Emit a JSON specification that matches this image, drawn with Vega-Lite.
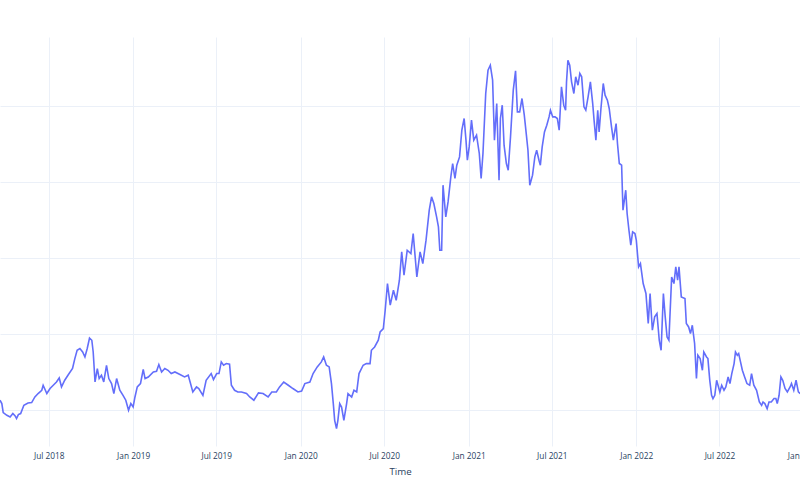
{
  "$schema": "https://vega.github.io/schema/vega-lite/v6.json",
  "width": 800,
  "height": 409,
  "autosize": {"type": "none"},
  "padding": {"left": 0, "top": 37, "right": 0, "bottom": 54},
  "background": "white",
  "config": {"view": {"stroke": null}},
  "data": {
    "values": [
      {"date": "2018-03-17", "value": 11.32}, {"date": "2018-03-21", "value": 10.88}, {"date": "2018-03-24", "value": 9.70},
      {"date": "2018-04-01", "value": 9.34}, {"date": "2018-04-08", "value": 9.12}, {"date": "2018-04-14", "value": 9.57},
      {"date": "2018-04-19", "value": 9.25}, {"date": "2018-04-22", "value": 8.91}, {"date": "2018-04-26", "value": 9.43},
      {"date": "2018-05-01", "value": 9.57}, {"date": "2018-05-08", "value": 10.66}, {"date": "2018-05-17", "value": 10.96},
      {"date": "2018-05-25", "value": 11.01}, {"date": "2018-06-01", "value": 11.75}, {"date": "2018-06-08", "value": 12.20},
      {"date": "2018-06-16", "value": 12.63}, {"date": "2018-06-19", "value": 13.29}, {"date": "2018-06-27", "value": 12.20},
      {"date": "2018-07-04", "value": 12.86}, {"date": "2018-07-11", "value": 13.29}, {"date": "2018-07-18", "value": 13.72},
      {"date": "2018-07-24", "value": 14.25}, {"date": "2018-07-29", "value": 13.07}, {"date": "2018-08-05", "value": 13.95},
      {"date": "2018-08-12", "value": 14.61}, {"date": "2018-08-22", "value": 15.49}, {"date": "2018-08-27", "value": 16.80},
      {"date": "2018-09-01", "value": 17.89}, {"date": "2018-09-07", "value": 18.12}, {"date": "2018-09-13", "value": 17.67},
      {"date": "2018-09-18", "value": 17.01}, {"date": "2018-09-23", "value": 18.12}, {"date": "2018-09-28", "value": 19.51},
      {"date": "2018-10-03", "value": 19.21}, {"date": "2018-10-06", "value": 17.67}, {"date": "2018-10-10", "value": 13.72},
      {"date": "2018-10-15", "value": 15.49}, {"date": "2018-10-19", "value": 14.17}, {"date": "2018-10-24", "value": 14.61},
      {"date": "2018-10-29", "value": 13.72}, {"date": "2018-11-04", "value": 15.92}, {"date": "2018-11-09", "value": 14.17},
      {"date": "2018-11-15", "value": 13.51}, {"date": "2018-11-20", "value": 12.20}, {"date": "2018-11-26", "value": 14.17},
      {"date": "2018-12-03", "value": 12.63}, {"date": "2018-12-10", "value": 11.97}, {"date": "2018-12-16", "value": 11.32},
      {"date": "2018-12-22", "value": 10.00}, {"date": "2018-12-27", "value": 10.88},
      {"date": "2019-01-01", "value": 10.43}, {"date": "2019-01-05", "value": 11.75}, {"date": "2019-01-10", "value": 13.07},
      {"date": "2019-01-17", "value": 13.51}, {"date": "2019-01-23", "value": 15.39}, {"date": "2019-01-27", "value": 14.17},
      {"date": "2019-02-03", "value": 14.38}, {"date": "2019-02-14", "value": 15.04}, {"date": "2019-02-21", "value": 15.13},
      {"date": "2019-02-26", "value": 16.01}, {"date": "2019-03-04", "value": 15.04}, {"date": "2019-03-11", "value": 15.49},
      {"date": "2019-03-18", "value": 15.26}, {"date": "2019-03-25", "value": 14.83}, {"date": "2019-04-02", "value": 15.04},
      {"date": "2019-04-13", "value": 14.70}, {"date": "2019-04-23", "value": 14.38}, {"date": "2019-05-01", "value": 14.61},
      {"date": "2019-05-06", "value": 13.51}, {"date": "2019-05-11", "value": 12.41}, {"date": "2019-05-19", "value": 13.07},
      {"date": "2019-05-24", "value": 12.86}, {"date": "2019-06-02", "value": 11.97}, {"date": "2019-06-09", "value": 13.95},
      {"date": "2019-06-20", "value": 14.83}, {"date": "2019-06-25", "value": 14.04}, {"date": "2019-07-02", "value": 14.83},
      {"date": "2019-07-07", "value": 14.83}, {"date": "2019-07-12", "value": 16.36}, {"date": "2019-07-17", "value": 15.92},
      {"date": "2019-07-23", "value": 16.14}, {"date": "2019-07-30", "value": 16.05}, {"date": "2019-08-03", "value": 13.29},
      {"date": "2019-08-10", "value": 12.63}, {"date": "2019-08-17", "value": 12.41}, {"date": "2019-08-25", "value": 12.41},
      {"date": "2019-09-05", "value": 12.20}, {"date": "2019-09-12", "value": 11.75}, {"date": "2019-09-21", "value": 11.32},
      {"date": "2019-10-01", "value": 12.28}, {"date": "2019-10-11", "value": 12.20}, {"date": "2019-10-22", "value": 11.75},
      {"date": "2019-10-30", "value": 12.41}, {"date": "2019-11-09", "value": 12.41}, {"date": "2019-11-16", "value": 13.07},
      {"date": "2019-11-25", "value": 13.72}, {"date": "2019-12-05", "value": 13.29}, {"date": "2019-12-15", "value": 12.86},
      {"date": "2019-12-26", "value": 12.41},
      {"date": "2020-01-03", "value": 12.54}, {"date": "2020-01-10", "value": 13.51}, {"date": "2020-01-21", "value": 13.72},
      {"date": "2020-01-28", "value": 14.83}, {"date": "2020-02-06", "value": 15.70}, {"date": "2020-02-15", "value": 16.36},
      {"date": "2020-02-20", "value": 17.01}, {"date": "2020-02-26", "value": 15.92}, {"date": "2020-03-03", "value": 15.70},
      {"date": "2020-03-08", "value": 13.51}, {"date": "2020-03-12", "value": 10.88}, {"date": "2020-03-15", "value": 8.68},
      {"date": "2020-03-19", "value": 7.59}, {"date": "2020-03-22", "value": 8.68}, {"date": "2020-03-26", "value": 10.88},
      {"date": "2020-03-30", "value": 10.43}, {"date": "2020-04-04", "value": 8.68}, {"date": "2020-04-10", "value": 10.88},
      {"date": "2020-04-13", "value": 12.20}, {"date": "2020-04-21", "value": 11.75}, {"date": "2020-04-26", "value": 12.63},
      {"date": "2020-05-02", "value": 12.41}, {"date": "2020-05-07", "value": 14.83}, {"date": "2020-05-16", "value": 15.92},
      {"date": "2020-05-23", "value": 16.14}, {"date": "2020-05-31", "value": 16.14}, {"date": "2020-06-03", "value": 17.89},
      {"date": "2020-06-10", "value": 18.33}, {"date": "2020-06-18", "value": 19.21}, {"date": "2020-06-22", "value": 20.30},
      {"date": "2020-06-29", "value": 20.75}, {"date": "2020-07-03", "value": 23.16}, {"date": "2020-07-08", "value": 26.67},
      {"date": "2020-07-14", "value": 23.82}, {"date": "2020-07-21", "value": 25.79}, {"date": "2020-07-27", "value": 24.47},
      {"date": "2020-08-03", "value": 27.11}, {"date": "2020-08-08", "value": 30.83}, {"date": "2020-08-13", "value": 27.76},
      {"date": "2020-08-20", "value": 31.05}, {"date": "2020-08-28", "value": 30.62}, {"date": "2020-09-02", "value": 33.25},
      {"date": "2020-09-10", "value": 27.54}, {"date": "2020-09-17", "value": 30.83}, {"date": "2020-09-23", "value": 29.30},
      {"date": "2020-09-30", "value": 32.37}, {"date": "2020-10-07", "value": 36.32}, {"date": "2020-10-12", "value": 38.07},
      {"date": "2020-10-17", "value": 37.20}, {"date": "2020-10-23", "value": 35.43}, {"date": "2020-10-27", "value": 34.12},
      {"date": "2020-10-30", "value": 31.05}, {"date": "2020-11-03", "value": 31.05}, {"date": "2020-11-06", "value": 39.61},
      {"date": "2020-11-12", "value": 35.43}, {"date": "2020-11-17", "value": 37.41}, {"date": "2020-11-23", "value": 40.70},
      {"date": "2020-11-27", "value": 42.46}, {"date": "2020-12-02", "value": 40.49}, {"date": "2020-12-06", "value": 42.24},
      {"date": "2020-12-12", "value": 43.33}, {"date": "2020-12-17", "value": 46.84}, {"date": "2020-12-22", "value": 48.38},
      {"date": "2020-12-26", "value": 45.53}, {"date": "2020-12-29", "value": 42.89},
      {"date": "2021-01-02", "value": 44.64}, {"date": "2021-01-07", "value": 48.16}, {"date": "2021-01-12", "value": 45.53},
      {"date": "2021-01-18", "value": 46.18}, {"date": "2021-01-24", "value": 43.78}, {"date": "2021-01-28", "value": 40.49},
      {"date": "2021-02-01", "value": 43.78}, {"date": "2021-02-07", "value": 51.67}, {"date": "2021-02-12", "value": 54.74},
      {"date": "2021-02-17", "value": 55.39}, {"date": "2021-02-22", "value": 53.42}, {"date": "2021-02-26", "value": 45.53},
      {"date": "2021-03-03", "value": 50.36}, {"date": "2021-03-08", "value": 40.26}, {"date": "2021-03-11", "value": 48.38},
      {"date": "2021-03-15", "value": 50.13}, {"date": "2021-03-19", "value": 44.87}, {"date": "2021-03-24", "value": 42.46},
      {"date": "2021-03-28", "value": 41.58}, {"date": "2021-04-02", "value": 45.96}, {"date": "2021-04-08", "value": 52.11},
      {"date": "2021-04-13", "value": 54.64}, {"date": "2021-04-17", "value": 49.25}, {"date": "2021-04-22", "value": 49.25},
      {"date": "2021-04-27", "value": 51.01}, {"date": "2021-05-02", "value": 48.82}, {"date": "2021-05-07", "value": 45.96},
      {"date": "2021-05-10", "value": 44.21}, {"date": "2021-05-14", "value": 39.61}, {"date": "2021-05-20", "value": 40.92},
      {"date": "2021-05-25", "value": 43.33}, {"date": "2021-05-29", "value": 44.21}, {"date": "2021-06-03", "value": 42.89},
      {"date": "2021-06-06", "value": 42.24}, {"date": "2021-06-10", "value": 44.64}, {"date": "2021-06-15", "value": 46.62},
      {"date": "2021-06-20", "value": 47.50}, {"date": "2021-06-25", "value": 48.59}, {"date": "2021-06-28", "value": 49.47},
      {"date": "2021-07-03", "value": 48.59}, {"date": "2021-07-08", "value": 48.59}, {"date": "2021-07-13", "value": 48.38},
      {"date": "2021-07-17", "value": 46.84}, {"date": "2021-07-22", "value": 52.54}, {"date": "2021-07-27", "value": 50.13},
      {"date": "2021-07-31", "value": 49.47}, {"date": "2021-08-02", "value": 53.20}, {"date": "2021-08-05", "value": 56.05},
      {"date": "2021-08-09", "value": 55.39}, {"date": "2021-08-13", "value": 53.20}, {"date": "2021-08-18", "value": 51.67},
      {"date": "2021-08-22", "value": 53.86}, {"date": "2021-08-27", "value": 52.76}, {"date": "2021-08-31", "value": 54.30},
      {"date": "2021-09-04", "value": 53.86}, {"date": "2021-09-09", "value": 49.91}, {"date": "2021-09-13", "value": 49.47},
      {"date": "2021-09-18", "value": 51.22}, {"date": "2021-09-23", "value": 53.20}, {"date": "2021-09-28", "value": 50.36},
      {"date": "2021-10-01", "value": 48.16}, {"date": "2021-10-05", "value": 45.53}, {"date": "2021-10-09", "value": 49.47},
      {"date": "2021-10-12", "value": 46.62}, {"date": "2021-10-16", "value": 49.70}, {"date": "2021-10-21", "value": 52.99},
      {"date": "2021-10-25", "value": 51.45}, {"date": "2021-10-30", "value": 50.79}, {"date": "2021-11-03", "value": 49.70},
      {"date": "2021-11-08", "value": 47.28}, {"date": "2021-11-12", "value": 45.53}, {"date": "2021-11-18", "value": 47.72},
      {"date": "2021-11-21", "value": 45.09}, {"date": "2021-11-25", "value": 42.46}, {"date": "2021-11-30", "value": 42.24},
      {"date": "2021-12-03", "value": 36.32}, {"date": "2021-12-09", "value": 38.95}, {"date": "2021-12-12", "value": 35.88},
      {"date": "2021-12-16", "value": 33.68}, {"date": "2021-12-20", "value": 31.71}, {"date": "2021-12-24", "value": 33.46},
      {"date": "2021-12-29", "value": 33.25},
      {"date": "2022-01-01", "value": 32.37}, {"date": "2022-01-06", "value": 28.86}, {"date": "2022-01-10", "value": 29.30},
      {"date": "2022-01-16", "value": 26.67}, {"date": "2022-01-22", "value": 25.36}, {"date": "2022-01-27", "value": 21.41},
      {"date": "2022-01-31", "value": 25.36}, {"date": "2022-02-05", "value": 20.53}, {"date": "2022-02-10", "value": 22.28},
      {"date": "2022-02-15", "value": 22.72}, {"date": "2022-02-20", "value": 19.21}, {"date": "2022-02-24", "value": 17.89},
      {"date": "2022-03-01", "value": 25.36}, {"date": "2022-03-05", "value": 22.28}, {"date": "2022-03-09", "value": 19.64},
      {"date": "2022-03-13", "value": 19.21}, {"date": "2022-03-19", "value": 27.54}, {"date": "2022-03-24", "value": 26.67},
      {"date": "2022-03-28", "value": 28.86}, {"date": "2022-04-01", "value": 27.11}, {"date": "2022-04-04", "value": 28.86},
      {"date": "2022-04-09", "value": 24.91}, {"date": "2022-04-17", "value": 24.70}, {"date": "2022-04-20", "value": 21.41},
      {"date": "2022-04-25", "value": 20.96}, {"date": "2022-04-29", "value": 20.09}, {"date": "2022-05-03", "value": 21.18},
      {"date": "2022-05-08", "value": 18.78}, {"date": "2022-05-12", "value": 14.17}, {"date": "2022-05-15", "value": 17.24},
      {"date": "2022-05-20", "value": 16.80}, {"date": "2022-05-25", "value": 15.26}, {"date": "2022-05-28", "value": 17.67},
      {"date": "2022-06-03", "value": 17.01}, {"date": "2022-06-06", "value": 16.80}, {"date": "2022-06-10", "value": 13.95},
      {"date": "2022-06-14", "value": 11.97}, {"date": "2022-06-17", "value": 11.54}, {"date": "2022-06-21", "value": 11.97},
      {"date": "2022-06-25", "value": 13.95}, {"date": "2022-06-28", "value": 13.29}, {"date": "2022-07-02", "value": 12.41},
      {"date": "2022-07-06", "value": 13.29}, {"date": "2022-07-11", "value": 12.63}, {"date": "2022-07-15", "value": 13.07},
      {"date": "2022-07-20", "value": 14.38}, {"date": "2022-07-24", "value": 13.51}, {"date": "2022-07-28", "value": 14.83},
      {"date": "2022-08-02", "value": 16.14}, {"date": "2022-08-05", "value": 17.67}, {"date": "2022-08-09", "value": 17.24},
      {"date": "2022-08-12", "value": 17.46}, {"date": "2022-08-16", "value": 16.36}, {"date": "2022-08-20", "value": 15.26},
      {"date": "2022-08-25", "value": 14.38}, {"date": "2022-08-30", "value": 13.51}, {"date": "2022-09-05", "value": 13.29},
      {"date": "2022-09-09", "value": 14.83}, {"date": "2022-09-14", "value": 13.29}, {"date": "2022-09-20", "value": 12.63},
      {"date": "2022-09-26", "value": 11.09}, {"date": "2022-10-01", "value": 10.66}, {"date": "2022-10-04", "value": 11.09},
      {"date": "2022-10-08", "value": 10.88}, {"date": "2022-10-13", "value": 10.22}, {"date": "2022-10-17", "value": 11.09},
      {"date": "2022-10-22", "value": 11.09}, {"date": "2022-10-28", "value": 11.54}, {"date": "2022-11-01", "value": 11.54},
      {"date": "2022-11-04", "value": 10.88}, {"date": "2022-11-08", "value": 11.97}, {"date": "2022-11-12", "value": 14.38},
      {"date": "2022-11-16", "value": 13.95}, {"date": "2022-11-21", "value": 12.86}, {"date": "2022-11-26", "value": 12.41},
      {"date": "2022-12-02", "value": 13.07}, {"date": "2022-12-05", "value": 13.51}, {"date": "2022-12-10", "value": 12.63},
      {"date": "2022-12-15", "value": 13.95}, {"date": "2022-12-20", "value": 12.41}, {"date": "2022-12-24", "value": 12.20}
    ]
  },
  "mark": {"type": "line", "color": "#636efa", "strokeWidth": 1.6},
  "encoding": {
    "x": {
      "field": "date",
      "type": "temporal",
      "title": "Time",
      "scale": {
        "type": "utc",
        "domain": [
          {"year": 2018, "month": 3, "date": 17, "utc": true},
          {"year": 2023, "month": 1, "date": 10, "utc": true}
        ],
        "range": [0, 808]
      },
      "axis": {
        "values": [
          {"year": 2018, "month": 7, "date": 1, "utc": true},
          {"year": 2019, "month": 1, "date": 1, "utc": true},
          {"year": 2019, "month": 7, "date": 1, "utc": true},
          {"year": 2020, "month": 1, "date": 1, "utc": true},
          {"year": 2020, "month": 7, "date": 1, "utc": true},
          {"year": 2021, "month": 1, "date": 1, "utc": true},
          {"year": 2021, "month": 7, "date": 1, "utc": true},
          {"year": 2022, "month": 1, "date": 1, "utc": true},
          {"year": 2022, "month": 7, "date": 1, "utc": true},
          {"year": 2023, "month": 1, "date": 1, "utc": true}
        ],
        "labelExpr": "utcFormat(datum.value, '%b %Y')",
        "grid": true,
        "gridColor": "#ebf0f8",
        "gridWidth": 1,
        "domain": false,
        "ticks": false,
        "labelFont": "Open Sans",
        "labelFontSize": 8.3,
        "labelColor": "#2a3f5f",
        "labelPadding": 5,
        "labelOverlap": false,
        "labelFlush": false,
        "labelBound": false,
        "titleFont": "Open Sans",
        "titleFontSize": 9.7,
        "titleFontWeight": "normal",
        "titleColor": "#2a3f5f",
        "titlePadding": 7,
        "titleX": 400,
        "titleAnchor": "middle"
      }
    },
    "y": {
      "field": "value",
      "type": "quantitative",
      "scale": {"domain": [5.3, 59.1], "nice": false, "zero": false},
      "axis": {
        "values": [10, 20, 30, 40, 50],
        "title": null,
        "labels": false,
        "ticks": false,
        "domain": false,
        "grid": true,
        "gridColor": "#ebf0f8",
        "gridWidth": 1
      }
    }
  }
}
